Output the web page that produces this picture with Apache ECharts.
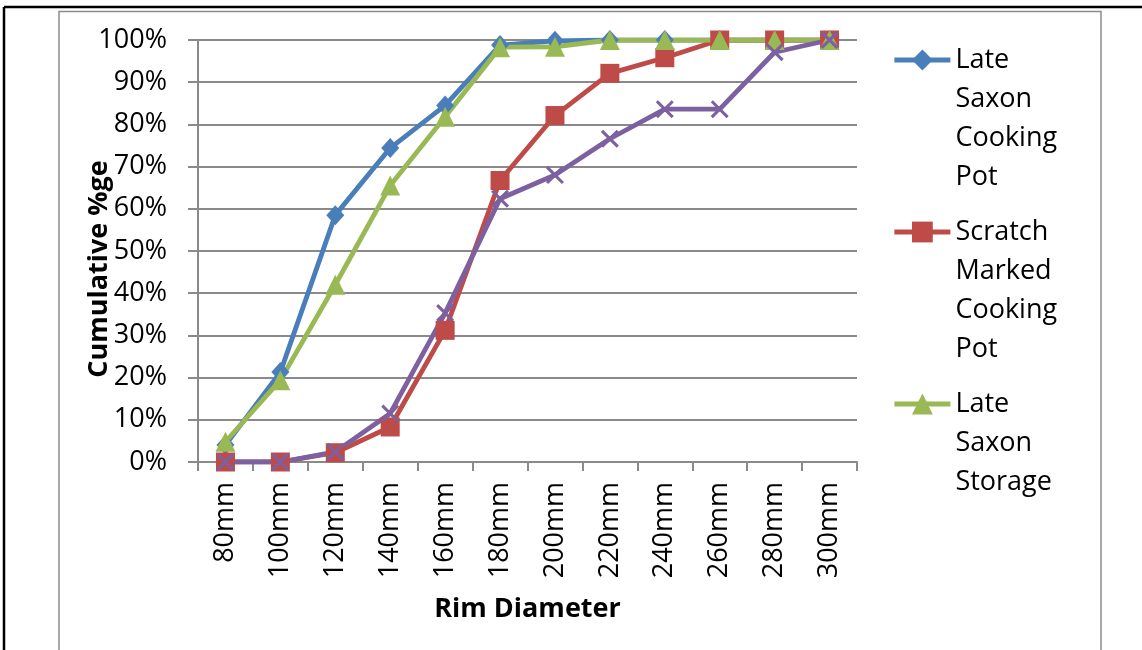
<!DOCTYPE html>
<html>
<head>
<meta charset="utf-8">
<script src="https://cdn.jsdelivr.net/npm/echarts@6/dist/echarts.min.js"></script>
<style>
  html, body { margin: 0; padding: 0; background: #fff; }
  #chart { width: 1142px; height: 650px; }
</style>
</head>
<body>
<div id="chart"></div>
<script>
// Rim diameter classes
const categories = ['80mm', '100mm', '120mm', '140mm', '160mm', '180mm', '200mm', '220mm', '240mm', '260mm', '280mm', '300mm'];

// Cumulative percentages (0-1)
const lateSaxonCooking = [0.04, 0.213, 0.585, 0.744, 0.845, 0.988, 0.998, 1, 1, 1, 1, 1];
const scratchMarkedCooking = [0, 0, 0.022, 0.083, 0.312, 0.667, 0.821, 0.921, 0.958, 1, 1, 1];
const lateSaxonStorage = [0.048, 0.194, 0.42, 0.655, 0.818, 0.983, 0.984, 1, 1, 1, 1, 1];
const otherSeries = [0, 0, 0.024, 0.115, 0.353, 0.624, 0.68, 0.766, 0.836, 0.836, 0.971, 1];

const yTicks = { min: 0, max: 1, interval: 0.1 };

const FONT = '"Open Sans", "Liberation Sans", sans-serif';
const LINE_H = 39;
const GRID_GREY = '#8a8a8a';

const crossPath = 'path://M0,1.2 L1.2,0 L10,8.8 L8.8,10 Z M8.8,0 L10,1.2 L1.2,10 L0,8.8 Z';

function lineSeries(name, data, color, symbol, size) {
  return {
    name: name,
    type: 'line',
    data: data,
    symbol: symbol,
    symbolSize: size,
    showAllSymbol: true,
    lineStyle: { color: color, width: 4.8 },
    itemStyle: { color: color },
    emphasis: { disabled: true },
    animation: false
  };
}

// One legend block per entry; leading blank lines keep the marker level with the first word
function legendBlock(name, iconCenterY) {
  const words = name.split(' ');
  const n = words.length;
  const boxH = (2 * n - 1) * LINE_H;
  return {
    data: [name],
    orient: 'vertical',
    left: 892,
    top: iconCenterY - boxH / 2,
    padding: 0,
    itemWidth: 56,
    itemHeight: 26,
    itemGap: 0,
    selectedMode: false,
    lineStyle: { width: 4.8 },
    formatter: function () { return '\n'.repeat(n - 1) + words.join('\n'); },
    textStyle: {
      fontFamily: FONT,
      fontSize: 27,
      color: '#000',
      lineHeight: LINE_H
    }
  };
}

const option = {
  backgroundColor: '#fff',
  animation: false,
  graphic: [
    { type: 'line', shape: { x1: 4, y1: 7, x2: 1142, y2: 7 }, style: { stroke: '#000', lineWidth: 2.5 } },
    { type: 'line', shape: { x1: 4, y1: 7, x2: 4, y2: 650 }, style: { stroke: '#000', lineWidth: 2.5 } },
    { type: 'rect', shape: { x: 59, y: 11.5, width: 1042, height: 660 }, style: { fill: 'none', stroke: '#8c8c8c', lineWidth: 1.5 } }
  ],
  grid: { left: 198, right: 285, top: 40, bottom: 188 },
  legend: [
    legendBlock('Late Saxon Cooking Pot', 60),
    legendBlock('Scratch Marked Cooking Pot', 232),
    legendBlock('Late Saxon Storage', 404)
  ],
  xAxis: {
    type: 'category',
    data: categories,
    boundaryGap: true,
    name: 'Rim Diameter',
    nameLocation: 'middle',
    nameGap: 134,
    nameMoveOverlap: false,
    nameTextStyle: { fontFamily: FONT, fontSize: 27, fontWeight: 'bold', color: '#000' },
    axisLine: { lineStyle: { color: GRID_GREY, width: 2 } },
    axisTick: { show: true, length: 9, interval: 0, lineStyle: { color: GRID_GREY, width: 2 } },
    axisLabel: { rotate: 90, margin: 20, interval: 0, fontFamily: FONT, fontSize: 27, color: '#000' },
    splitLine: { show: false }
  },
  yAxis: {
    type: 'value',
    min: yTicks.min,
    max: yTicks.max,
    interval: yTicks.interval,
    name: 'Cumulative %ge',
    nameLocation: 'middle',
    nameRotate: 90,
    nameGap: 85,
    nameMoveOverlap: false,
    nameTextStyle: { fontFamily: FONT, fontSize: 27, fontWeight: 'bold', color: '#000', padding: [0, 36, 0, 0] },
    axisLine: { show: true, lineStyle: { color: GRID_GREY, width: 2 } },
    axisTick: { show: true, length: 10, lineStyle: { color: GRID_GREY, width: 2 } },
    axisLabel: {
      margin: 31, fontFamily: FONT, fontSize: 27, color: '#000',
      formatter: function (v) { return Math.round(v * 100) + '%'; }
    },
    splitLine: { show: true, lineStyle: { color: GRID_GREY, width: 2 } }
  },
  series: [
    lineSeries('Late Saxon Cooking Pot', lateSaxonCooking, '#4a7ebb', 'diamond', [18, 20]),
    lineSeries('Scratch Marked Cooking Pot', scratchMarkedCooking, '#be4b48', 'rect', 19),
    lineSeries('Late Saxon Storage', lateSaxonStorage, '#98b954', 'triangle', 20),
    lineSeries('Series4', otherSeries, '#7d60a0', crossPath, 18)
  ]
};

const chart = echarts.init(document.getElementById('chart'), null, { renderer: 'canvas' });
chart.setOption(option);
</script>
</body>
</html>
